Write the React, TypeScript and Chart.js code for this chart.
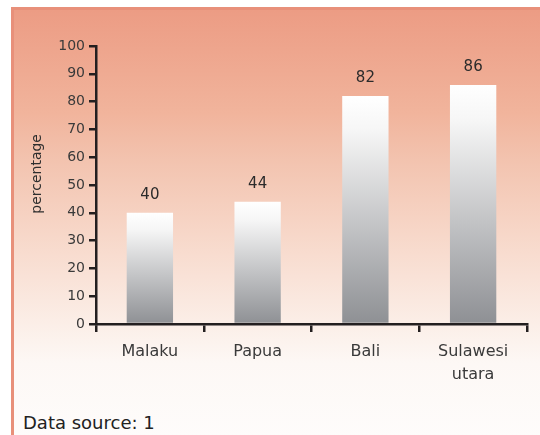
import React, { useEffect, useRef } from 'react';
import { Chart, registerables } from 'chart.js';

Chart.register(...registerables);

const categories: (string | string[])[] = ['Malaku', 'Papua', 'Bali', ['Sulawesi', 'utara']];
const values: number[] = [40, 44, 82, 86];
const yMin = 0;
const yMax = 100;
const yStep = 10;
const yAxisTitle = 'percentage';
const sourceNote = 'Data source: 1';

const FONT = '"DejaVu Sans", "Liberation Sans", sans-serif';
const AXIS = '#231f20';

const valueLabels = {
  id: 'valueLabels',
  afterDatasetsDraw(chart: any) {
    const ctx = chart.ctx;
    const meta = chart.getDatasetMeta(0);
    ctx.save();
    ctx.font = `15px ${FONT}`;
    ctx.fillStyle = '#2b2b2b';
    ctx.textAlign = 'center';
    ctx.textBaseline = 'middle';
    meta.data.forEach((el: any, i: number) => {
      const { x, y } = el.getProps(['x', 'y'], true);
      ctx.fillText(String(values[i]), x, y - 18);
    });
    ctx.restore();
  },
};

export default function App() {
  const ref = useRef<HTMLCanvasElement | null>(null);

  useEffect(() => {
    if (!ref.current) return;
    const chart = new Chart(ref.current, {
      type: 'bar',
      data: {
        labels: categories as any,
        datasets: [
          {
            data: values,
            barPercentage: 0.43,
            categoryPercentage: 1,
            borderWidth: 0,
            backgroundColor: (ctx: any) => {
              const c = ctx.chart;
              const ys = c.scales && c.scales.y;
              if (!ys || ctx.type !== 'data') return '#cccccc';
              const v = ctx.raw as number;
              const top = ys.getPixelForValue(v);
              const bottom = ys.getPixelForValue(0);
              if (!isFinite(top) || !isFinite(bottom)) return '#cccccc';
              const g = c.ctx.createLinearGradient(0, top, 0, bottom);
              g.addColorStop(0, '#ffffff');
              g.addColorStop(0.15, '#f6f6f6');
              g.addColorStop(1, '#8e9094');
              return g;
            },
          },
        ],
      },
      options: {
        responsive: false,
        maintainAspectRatio: false,
        devicePixelRatio: 1,
        animation: false,
        layout: { padding: { left: 0, top: 46, right: 13, bottom: 0 } },
        plugins: {
          legend: { display: false },
          tooltip: { enabled: false },
          title: { display: false },
        },
        scales: {
          x: {
            type: 'category',
            afterFit: (s: any) => {
              s.height = 76;
            },
            border: { display: true, color: AXIS, width: 2.5 },
            grid: {
              display: true,
              drawOnChartArea: false,
              drawTicks: true,
              tickLength: 8,
              color: AXIS,
              tickColor: AXIS,
              lineWidth: 2.5,
              offset: true,
            },
            ticks: {
              color: '#3a3a3a',
              padding: 8,
              maxRotation: 0,
              autoSkip: false,
              font: { family: FONT, size: 16, lineHeight: 1.44 },
            },
          },
          y: {
            min: yMin,
            max: yMax,
            afterFit: (s: any) => {
              s.width = 96;
            },
            border: { display: true, color: AXIS, width: 2.5 },
            grid: {
              display: true,
              drawOnChartArea: false,
              drawTicks: true,
              tickLength: 7,
              color: AXIS,
              tickColor: AXIS,
              lineWidth: 2.5,
            },
            ticks: {
              stepSize: yStep,
              color: '#3a3a3a',
              padding: 4,
              font: { family: FONT, size: 14 },
            },
            title: {
              display: true,
              text: '     ' + yAxisTitle,
              color: '#2e2e2e',
              padding: { top: 29, bottom: 0 },
              font: { family: FONT, size: 14 },
            },
          },
        },
      },
      plugins: [valueLabels],
    });
    return () => chart.destroy();
  }, []);

  return (
    <div
      style={{
        position: 'fixed',
        left: 0,
        top: 0,
        width: 540,
        height: 435,
        overflow: 'hidden',
        background: '#ffffff',
      }}
    >
      <div
        style={{
          position: 'absolute',
          left: 11,
          top: 7,
          width: 600,
          height: 500,
          boxSizing: 'border-box',
          borderTop: '3px solid #e8907a',
          borderLeft: '3px solid #e8907a',
          background:
            'linear-gradient(to bottom, #ec9c84 0px, #f1b49c 103px, #f3c4b0 153px, #f8dccf 243px, #fbeee7 313px, #fdf8f5 353px, #fefcfb 428px, #fefcfb 500px)',
        }}
      />
      <canvas
        ref={ref}
        width={540}
        height={400}
        style={{ position: 'absolute', left: 0, top: 0, width: 540, height: 400 }}
      />
      <div
        style={{
          position: 'absolute',
          left: 23,
          top: 414,
          fontFamily: FONT,
          fontSize: 18,
          lineHeight: '18px',
          color: '#222222',
          whiteSpace: 'nowrap',
        }}
      >
        {sourceNote}
      </div>
    </div>
  );
}
